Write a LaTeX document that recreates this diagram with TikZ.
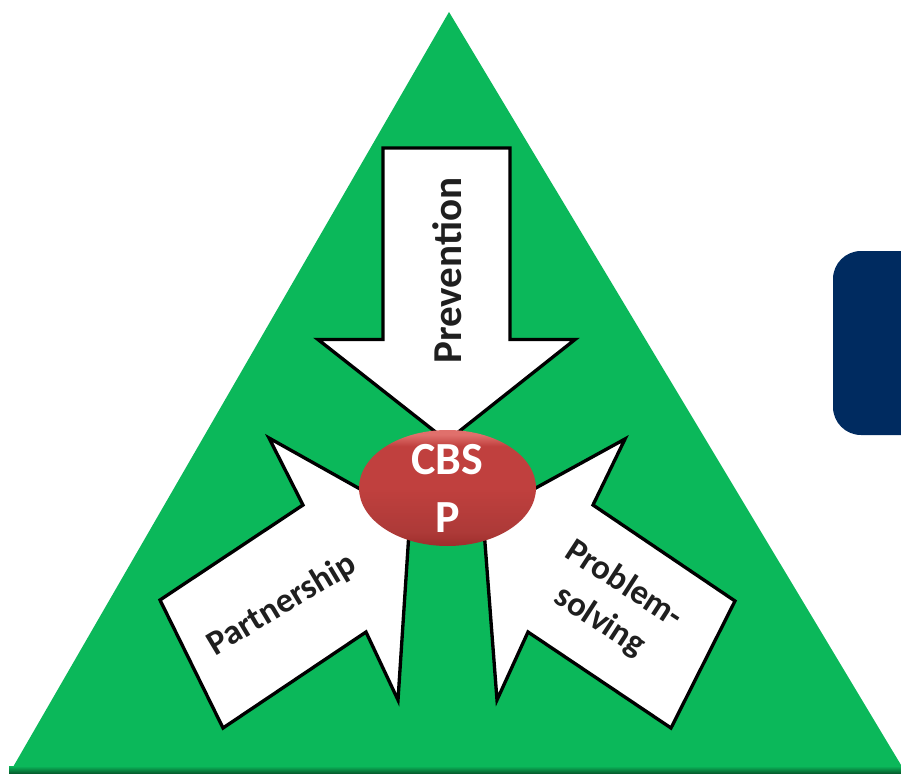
\documentclass[tikz,border=0pt]{standalone}
\usetikzlibrary{shapes.geometric}
\usepackage{fontspec}
\setmainfont{Carlito}
\definecolor{trigreen}{HTML}{0BB85A}
\definecolor{navybox}{HTML}{002B60}
\definecolor{hubred}{HTML}{C0403E}
\definecolor{hubtop}{HTML}{E0706C}
\definecolor{hubbot}{HTML}{9E2E2C}
\pgfdeclareverticalshading{hubshade}{100bp}{color(0bp)=(hubbot); color(25bp)=(hubbot); color(31bp)=(hubred!90!black); color(50bp)=(hubred); color(68bp)=(hubred); color(73bp)=(hubtop); color(75bp)=(hubtop); color(100bp)=(hubtop)}
\tikzset{
  x=0.75pt,y=-0.75pt,
  arrowshape/.style={draw=black,line width=2.5pt,fill=white,line join=miter},
  arrowtext/.style={font=\bfseries\fontsize{26}{33}\selectfont,text=black!88,inner sep=0pt},
  hubtext/.style={font=\bfseries\fontsize{34.5}{40}\selectfont,text=white,inner sep=0pt},
}
\begin{document}
\begin{tikzpicture}
\useasboundingbox (0,0) rectangle (901,774);
\fill[white] (0,0) rectangle (901,774);
\fill[trigreen] (449,12) -- (901,765) -- (901,774) -- (9,774) -- cycle;
\shade[top color=trigreen,bottom color=black!55!trigreen] (9,766) rectangle (901,774);
\fill[navybox,rounded corners=21pt] (833,251) rectangle (940,435);
\draw[arrowshape] (383,148) -- (510,148) -- (510,339.5) -- (575,339.5) -- (447,441) -- (318,339.5) -- (383,339.5) -- cycle;
\draw[arrowshape] (160,600) -- (303,505) -- (269,438) -- (410,517) -- (398,700) -- (366,632) -- (223,728) -- cycle;
\draw[arrowshape] (735,601) -- (593,505) -- (625,439) -- (483,517) -- (497,700) -- (528,632) -- (671,728) -- cycle;
\node[ellipse,minimum width=132.75pt,minimum height=87pt,inner sep=0pt,shading=hubshade] (hub) at (447.5,488) {};
\node[hubtext] (h1) at (447,460) {CBS};
\node[hubtext] (h2) at (448,518) {P};
\node[arrowtext,font=\bfseries\fontsize{30.8}{33}\selectfont,rotate=90] (prev) at (447,270.5) {Prevention};
\node[arrowtext,rotate=31] (part) at (282,605) {Partnership};
\node[arrowtext,rotate=-33,align=center] (prob) at (612,603) {Problem-\\solving};
\end{tikzpicture}
\end{document}
